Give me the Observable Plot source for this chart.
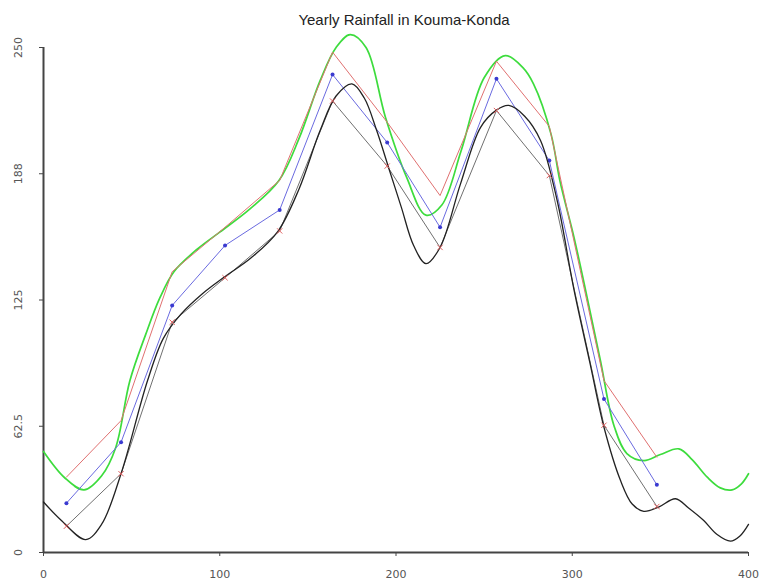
<!DOCTYPE html>
<html>
<head>
<meta charset="utf-8">
<script src="https://cdn.jsdelivr.net/npm/d3@7"></script>
<script src="https://cdn.jsdelivr.net/npm/@observablehq/plot@0.6"></script>
<style>
  body { margin: 0; background: #fff; }
  #wrap { position: relative; width: 770px; height: 580px; }
  #title { position: absolute; left: 0; top: 11px; width: 770px; padding-left: 38px; box-sizing: border-box;
           text-align: center; font-family: "Liberation Sans", Arial, sans-serif; font-size: 15px; color: #222; }
  #chart { position: absolute; left: 0; top: 32px; }
</style>
</head>
<body>
<div id="wrap">
  <div id="title">Yearly Rainfall in Kouma-Konda</div>
  <div id="chart"></div>
</div>
<script>
// Month positions (day of year) shared by the three straight-line series
const days = [13, 44, 73, 103, 134, 164, 195, 225, 257, 287, 318, 348];
const redValues  = [37.3, 65.3, 139, 161, 184.2, 247.7, 213, 176.7, 243.2, 210.9, 85.1, 47.2];
const blueValues = [24.4, 54.6, 122.3, 152, 169.6, 236.6, 203, 161, 234.5, 194, 76, 33.5];
const grayValues = [13, 39, 114, 136, 159.2, 223.5, 191.3, 151, 218.8, 186.6, 63, 22.8];

// Smooth curves
const greenX = [0, 12, 23, 33, 41, 49, 58, 66, 74, 87, 100, 117, 133.5, 145, 157, 166, 174, 183, 194, 206, 217, 226, 237, 250, 262, 272, 278, 288, 293, 301, 308.5, 316, 323.6, 331, 340.6, 350, 360.5, 368, 376.6, 384, 390.7, 396, 400];
const greenY = [50, 37, 31, 38, 52, 85, 108, 126, 139, 150, 158.6, 170, 184, 205, 233.7, 250, 256.4, 250, 215.5, 185.8, 167, 172, 199, 235, 246, 240, 232, 207, 184, 156, 126, 95, 63, 49, 45.5, 48.5, 51.3, 46, 37.3, 32, 31, 34, 39];

const blackX = [0, 10, 24, 33, 44, 59, 68, 78, 90, 102, 118, 133, 145, 157, 166, 175, 182, 189, 196, 203, 210, 217, 225, 236.6, 248, 257, 264, 273, 282, 291.5, 301, 310, 318, 327.4, 334, 340.6, 349, 358.6, 366, 374.6, 382, 389.8, 395, 400];
const blackY = [25, 16, 6.4, 14, 39, 85, 106, 118, 128, 136, 146, 159, 180, 209, 226, 232, 225, 209, 190, 171, 152, 143, 151, 182.5, 210.5, 219, 221.3, 216, 204, 174, 130, 94, 62, 35.6, 24, 20.4, 22.5, 26.6, 22, 15.8, 9, 5.6, 8, 13.9];

const xTicks = [0, 100, 200, 300, 400];
const yTicks = [0, 62.5, 125, 187.5, 250];
const yTickLabels = ["0", "62.5", "125", "188", "250"];

const red = days.map((d, i) => ({x: d, y: redValues[i]}));
const blue = days.map((d, i) => ({x: d, y: blueValues[i]}));
const gray = days.map((d, i) => ({x: d, y: grayValues[i]}));
const green = greenX.map((d, i) => ({x: d, y: greenY[i]}));
const black = blackX.map((d, i) => ({x: d, y: blackY[i]}));

const chart = Plot.plot({
  width: 770,
  height: 548,
  marginTop: 15,
  marginBottom: 28,
  marginLeft: 43,
  marginRight: 22,
  style: {background: "#fff", fontFamily: "DejaVu Sans, sans-serif"},
  x: {domain: [0, 400]},
  y: {domain: [0, 250]},
  marks: [
    Plot.axisX({ticks: xTicks, tickSize: 4, tickPadding: 14, fontSize: 11, color: "#555", label: null, stroke: "#444"}),
    Plot.axisY({ticks: yTicks, tickSize: 4, tickPadding: 18, tickRotate: -90, fontSize: 11, color: "#555", label: null, stroke: "#444",
                tickFormat: (d) => yTickLabels[yTicks.indexOf(d)]}),
    Plot.ruleX([0], {stroke: "#444", strokeWidth: 2}),
    Plot.ruleY([0], {stroke: "#444", strokeWidth: 2}),
    Plot.line(green, {x: "x", y: "y", stroke: "#3ddc3d", strokeWidth: 1.7, curve: "catmull-rom"}),
    Plot.line(red, {x: "x", y: "y", stroke: "#e07070", strokeWidth: 1}),
    Plot.line(blue, {x: "x", y: "y", stroke: "#6a6ae0", strokeWidth: 1}),
    Plot.dot(blue, {x: "x", y: "y", r: 2, fill: "#3a3ad0"}),
    Plot.line(gray, {x: "x", y: "y", stroke: "#707070", strokeWidth: 1}),
    Plot.line(black, {x: "x", y: "y", stroke: "#222", strokeWidth: 1.3, curve: "catmull-rom"}),
    Plot.dot(gray, {x: "x", y: "y", r: 2.5, symbol: "times", stroke: "#e06060", strokeWidth: 1})
  ]
});
document.getElementById("chart").appendChild(chart);
</script>
</body>
</html>
